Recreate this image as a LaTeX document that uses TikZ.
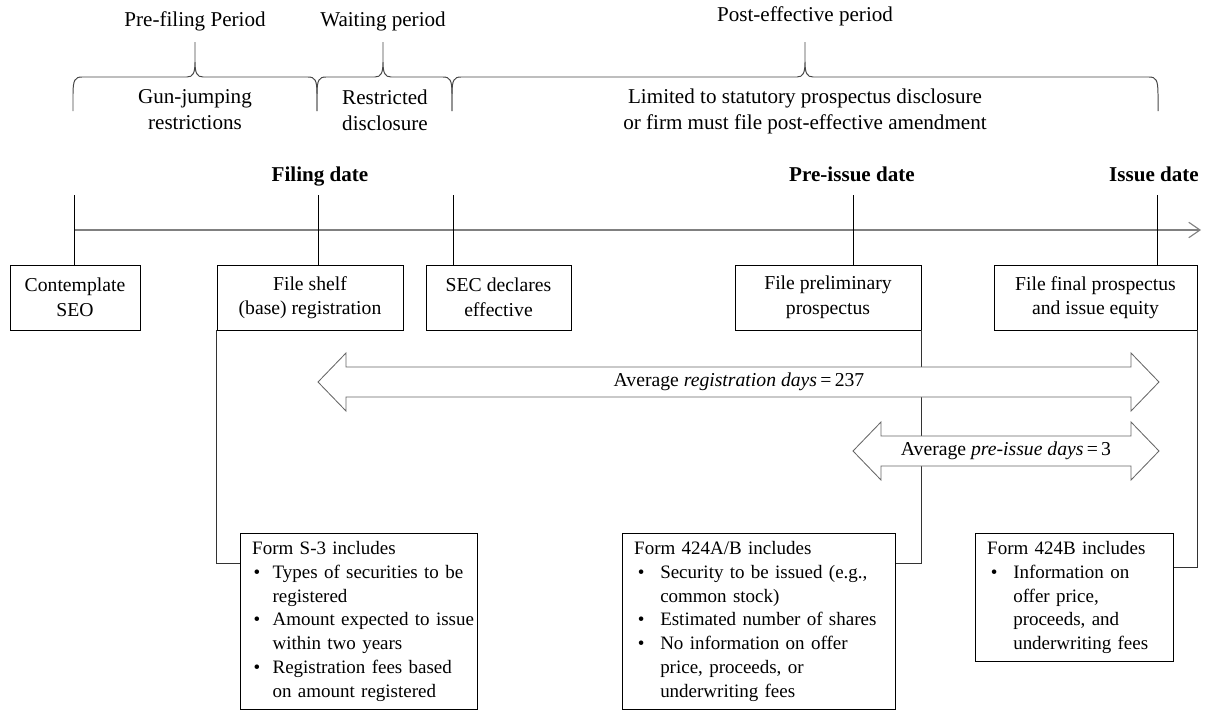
\documentclass[tikz,border=0pt]{standalone}
\usepackage{fontspec}
\setmainfont{Liberation Serif}
\usetikzlibrary{arrows.meta, calc, positioning}
\definecolor{axisgray}{RGB}{128,128,128}
\definecolor{bracegray}{RGB}{70,70,70}

\tikzset{
  evbox/.style={draw, align=center, inner sep=2pt, minimum height=1.625cm, font=\fontsize{14}{17.5}\selectfont},
  formbox/.style={draw, anchor=north west, align=left, inner xsep=8.5pt, inner ysep=3pt, font=\fontsize{13.5}{17}\selectfont},
  datelabel/.style={anchor=base, font=\fontsize{15}{18}\selectfont\bfseries},
  period/.style={font=\fontsize{15}{18}\selectfont},
  bracetext/.style={align=center, font=\fontsize{15}{18.5}\selectfont},
  tick/.style={black, line width=0.6pt},
  link/.style={black!80, line width=0.7pt},
  bracepen/.style={bracegray, line width=0.7pt},
  spanpen/.style={draw=black!60, fill=white, line width=0.6pt},
  spantext/.style={font=\fontsize{14}{17}\selectfont, inner sep=1pt}
}

\newcommand{\periodbrace}[3]{%
  \draw[bracepen] (#1,111) -- (#1,94) .. controls (#1,80) and (#1+2,77) .. (#1+9,77)
    -- (#3-8,77) .. controls (#3-2,77) and (#3,73) .. (#3,62) -- (#3,42)
    (#3,62) .. controls (#3,73) and (#3+2,77) .. (#3+8,77)
    -- (#2-9,77) .. controls (#2-2,77) and (#2,80) .. (#2,94) -- (#2,111);}

\newcommand{\spanarrow}[3]{%
  \path[spanpen] (#1,#3) -- (#1+28,#3-29) -- (#1+28,#3-15) -- (#2-28,#3-15) -- (#2-28,#3-29)
    -- (#2,#3) -- (#2-28,#3+29) -- (#2-28,#3+15) -- (#1+28,#3+15) -- (#1+28,#3+29) -- cycle;}

\begin{document}
\begin{tikzpicture}[x=0.025cm, y=-0.025cm]
  \useasboundingbox (0,0) rectangle (1205,711);

  \node[period] (prefiling) at (195,21) {Pre-filing Period};
  \node[period] (waiting) at (383,21) {Waiting period};
  \node[period] (posteff) at (805,16) {Post-effective period};

  \periodbrace{73}{317}{195}
  \periodbrace{317}{452}{383}
  \periodbrace{452}{1158}{805}

  \node[bracetext] (gunjump) at (195,110) {Gun-jumping\\restrictions};
  \node[bracetext] (restrict) at (385,110) {Restricted\\disclosure};
  \node[bracetext] (limited) at (805,111) {Limited to statutory prospectus disclosure\\or firm must file post-effective amendment};

  \node[datelabel] (filing) at (320,181) {Filing date};
  \node[datelabel] (preissue) at (852,181) {Pre-issue date};
  \node[datelabel] (issue) at (1154,181) {Issue date};

  \node[evbox, minimum width=3.25cm] (seo) at (75,297.5) {Contemplate\\SEO};
  \node[evbox, minimum width=4.65cm] (shelf) at (310,297.5) {File shelf\\(base) registration};
  \node[evbox, minimum width=3.625cm] (sec) at (498.5,297.5) {SEC declares\\effective};
  \node[evbox, minimum width=4.65cm] (prelim) at (828,297.5) {File preliminary\\prospectus};
  \node[evbox, minimum width=5.075cm] (final) at (1095.5,297.5) {File final prospectus\\and issue equity};

  \coordinate (tl-start) at (74,230);
  \coordinate (tl-end) at (1201,230);
  \coordinate (t-seo) at (74,195);
  \coordinate (t-shelf) at (318,195);
  \coordinate (t-sec) at (453,195);
  \coordinate (t-prelim) at (853,195);
  \coordinate (t-final) at (1157,195);

  \draw[axisgray, line width=1.3pt, -{Straight Barb[length=8pt, width=11pt, line width=0.8pt]}] (tl-start) -- (tl-end);
  \foreach \t/\b in {t-seo/seo, t-shelf/shelf, t-sec/sec, t-prelim/prelim, t-final/final}
    \draw[tick] (\t) -- (\t |- \b.north);

  \node[formbox, text width=151.6pt] (forms3) at (240,533) {%
    \begin{tabular}{@{\hspace{1pt}}p{13.5pt}@{}l@{}}
    \multicolumn{2}{@{}l@{}}{Form S-3 includes}\\
    \textbullet & Types of securities to be\\
     & registered\\
    \textbullet & Amount expected to issue\\
     & within two years\\
    \textbullet & Registration fees based\\
     & on amount registered
    \end{tabular}};
  \node[formbox, text width=177.2pt] (form424ab) at (622,533) {%
    \begin{tabular}{@{\hspace{2.5pt}}p{16pt}@{}l@{}}
    \multicolumn{2}{@{}l@{}}{Form 424A/B includes}\\
    \textbullet & Security to be issued (e.g.,\\
     & common stock)\\
    \textbullet & Estimated number of shares\\
    \textbullet & No information on offer\\
     & price, proceeds, or\\
     & underwriting fees
    \end{tabular}};
  \node[formbox, text width=123.8pt] (form424b) at (975,533) {%
    \begin{tabular}{@{\hspace{2.5pt}}p{16pt}@{}l@{}}
    \multicolumn{2}{@{}l@{}}{Form 424B includes}\\
    \textbullet & Information on\\
     & offer price,\\
     & proceeds, and\\
     & underwriting fees
    \end{tabular}};

  \draw[link] (shelf.south west) |- ($(forms3.north west)+(0,30)$);
  \draw[link] (prelim.south east) |- ($(form424ab.north east)+(0,30)$);
  \draw[link] (final.south east) |- ($(form424b.north east)+(0,34)$);

  \spanarrow{318}{1159}{382}
  \spanarrow{853}{1159}{451}
  \node[spantext] (regdays) at (739,382) {Average \textit{registration days}\,=\,237};
  \node[spantext] (predays) at (1006,451) {Average \textit{pre-issue days}\,=\,3};
\end{tikzpicture}
\end{document}
